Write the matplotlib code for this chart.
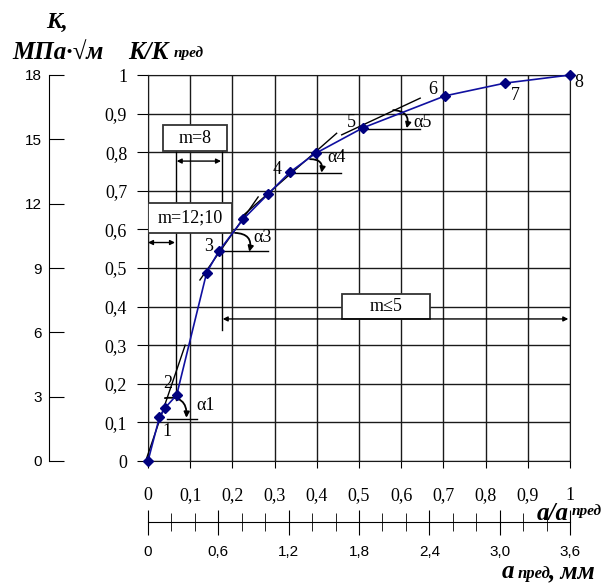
import matplotlib
matplotlib.use("Agg")
import matplotlib.pyplot as plt
import numpy as np
from matplotlib.patches import Rectangle, FancyArrowPatch

SERIF = ['Liberation Serif', 'DejaVu Serif']
SANS = ['Liberation Sans', 'DejaVu Sans']

# measured points: a/a_pred vs K/K_pred
a_rel = [0.0, 0.027, 0.040, 0.068, 0.139, 0.168, 0.226, 0.284, 0.336, 0.397, 0.509, 0.704, 0.846, 1.0]
k_rel = [0.0, 0.113, 0.137, 0.171, 0.488, 0.544, 0.627, 0.691, 0.748, 0.797, 0.863, 0.946, 0.979, 1.0]

# numbered points and where their numbers sit
num_labels = ["1", "2", "3", "4", "5", "6", "7", "8"]
num_x = [0.046, 0.047, 0.143, 0.307, 0.483, 0.675, 0.870, 1.020]
num_y = [0.076, 0.201, 0.555, 0.756, 0.876, 0.963, 0.946, 0.981]

# tangent lines (x0, y0, x1, y1) and horizontals for the angles
tangents = [(-0.003, 0.008, 0.088, 0.300),
            (0.123, 0.469, 0.261, 0.684),
            (0.218, 0.629, 0.447, 0.849),
            (0.459, 0.845, 0.645, 0.940)]
horizontals = [(0.044, 0.115, 0.109),
               (0.168, 0.285, 0.544),
               (0.336, 0.457, 0.745),
               (0.509, 0.645, 0.861)]
arcs = [((0.040, 0.163), (0.091, 0.112)),
        ((0.206, 0.591), (0.240, 0.542)),
        ((0.384, 0.782), (0.411, 0.747)),
        ((0.581, 0.909), (0.613, 0.862))]
alpha_labels = ["\u03b11", "\u03b13", "\u03b14", "\u03b15"]
alpha_x = [0.115, 0.249, 0.424, 0.628]
alpha_y = [0.145, 0.579, 0.785, 0.876]

rel_ticks = np.round(np.arange(0, 1.01, 0.1), 1)
rel_labels = ["0" if v == 0 else ("1" if v == 1 else f"{v:.1f}".replace(".", ",")) for v in rel_ticks]
k_ticks = [0, 3, 6, 9, 12, 15, 18]
mm_ticks = [0, 0.6, 1.2, 1.8, 2.4, 3.0, 3.6]
mm_labels = ["0", "0,6", "1,2", "1,8", "2,4", "3,0", "3,6"]

W, H = 613, 583
fig = plt.figure(figsize=(W / 100, H / 100), dpi=100)
ax = fig.add_axes([148 / W, 1 - 461 / H, 422 / W, 386 / H])
ax.set_xlim(0, 1)
ax.set_ylim(0, 1)

for v in rel_ticks:
    ax.axvline(v, color='#1a1a1a', lw=1, zorder=1)
    ax.axhline(v, color='#1a1a1a', lw=1, zorder=1)
for s in ax.spines.values():
    s.set_color('#1a1a1a')

ax.set_xticks(rel_ticks)
ax.set_xticklabels(rel_labels, family=SERIF, fontsize=13)
ax.set_yticks(rel_ticks)
ax.set_yticklabels(rel_labels, family=SERIF, fontsize=13)
ax.tick_params(axis='x', direction='out', length=5, pad=14)
ax.tick_params(axis='y', direction='out', length=8, pad=7)

# extra vertical guide lines for the m zones
ax.plot([0.066, 0.066], [0.158, 0.804], color='black', lw=1, zorder=2)
ax.plot([0.175, 0.175], [0.340, 0.804], color='black', lw=1, zorder=2)

# zone boxes
boxes = [("m=8", 0.035, 0.802, 0.153, 0.069),
         ("m=12;10", 0.0, 0.591, 0.2, 0.077),
         ("m\u22645", 0.46, 0.368, 0.208, 0.065)]
for txt, bx, by, bw, bh in boxes:
    ax.add_patch(Rectangle((bx, by), bw, bh, facecolor='white', edgecolor='#333333',
                           lw=1.3, zorder=4))
    ax.text(bx + bw / 2, by + bh / 2, txt, ha='center', va='center',
            family=SERIF, fontsize=13, zorder=5)

arrow_kw = dict(arrowstyle='<|-|>', mutation_scale=7, color='black', lw=1)
for x0, x1, y in [(0.0, 0.064, 0.566), (0.068, 0.173, 0.777), (0.177, 0.996, 0.368)]:
    ax.add_patch(FancyArrowPatch((x0, y), (x1, y), shrinkA=0, shrinkB=0, zorder=6, **arrow_kw))

# tangents, horizontals and angle arcs
for x0, y0, x1, y1 in tangents:
    ax.plot([x0, x1], [y0, y1], color='black', lw=1, zorder=3, clip_on=False)
for x0, x1, y in horizontals:
    ax.plot([x0, x1], [y, y], color='black', lw=1, zorder=3)
for p0, p1 in arcs:
    ax.add_patch(FancyArrowPatch(p0, p1, connectionstyle='arc3,rad=-0.6',
                                 arrowstyle='-|>', mutation_scale=8, color='black',
                                 lw=1.3, shrinkA=0, shrinkB=0, zorder=6))
for t, x, y in zip(alpha_labels, alpha_x, alpha_y):
    ax.text(x, y, t, ha='left', va='center', family=SERIF, fontsize=13, zorder=7)

# measured curve
ax.plot(a_rel, k_rel, color='#1010a0', lw=1.2, marker='D', markersize=5,
        markerfacecolor='#00007f', markeredgecolor='#00007f', zorder=8, clip_on=False)
for t, x, y in zip(num_labels, num_x, num_y):
    ax.text(x, y, t, ha='center', va='center', family=SERIF, fontsize=13, zorder=9)

# K scale, MPa*sqrt(m)
sy = ax.secondary_yaxis((49 - 148) / 422, functions=(lambda v: v * 18, lambda v: v / 18))
sy.set_yticks(k_ticks)
sy.set_yticklabels([str(k) for k in k_ticks], family=SANS, fontsize=11)
sy.tick_params(direction='in', length=11, pad=5)

# crack length scale, mm
sx = ax.secondary_xaxis((461 - 521.7) / 386, functions=(lambda v: v * 3.6, lambda v: v / 3.6))
sx.set_xticks(mm_ticks)
sx.set_xticklabels(mm_labels, family=SANS, fontsize=11)
sx.set_xticks(np.round(np.arange(0, 3.61, 0.2), 1), minor=True)
sx.tick_params(which='major', direction='inout', length=18, pad=8)
sx.tick_params(which='minor', direction='inout', length=13)


def ftext(x, y, s, size, ha='left'):
    fig.text(x / W, 1 - y / H, s, family=SERIF, fontsize=size, fontweight='bold',
             style='italic', ha=ha, va='baseline')


ftext(57, 28, "K,", 17, ha='center')
ftext(58, 59, "\u041c\u041f\u0430\u00b7\u221a\u043c", 18, ha='center')
ftext(128, 59, "K/K", 18)
ftext(174, 57, "\u043f\u0440\u0435\u0434", 11)
ftext(569, 520, "a/a", 18, ha='right')
ftext(572, 515, "\u043f\u0440\u0435\u0434", 11)
ftext(502, 578, "a", 18)
ftext(518, 578, "\u043f\u0440\u0435\u0434", 12)
ftext(549, 578, ", \u043c\u043c", 18)

fig.savefig("out.png", dpi=100)
